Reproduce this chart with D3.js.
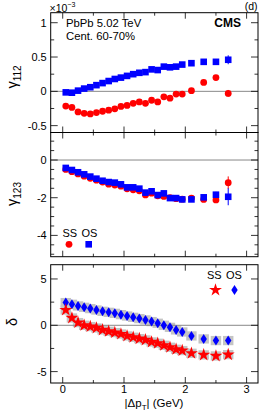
<!DOCTYPE html>
<html><head><meta charset="utf-8">
<script src="https://cdn.jsdelivr.net/npm/d3@7"></script>
<style>
html,body{margin:0;padding:0;background:#fff;}
svg{display:block;font-family:"Liberation Sans",Arial,sans-serif;}
</style></head>
<body>
<script>
// ---- data ----
const xVals = [0.05,0.15,0.25,0.35,0.45,0.55,0.65,0.75,0.85,0.95,1.05,1.15,1.25,1.35,1.45,1.55,1.65,1.75,1.85,1.95,2.1,2.3,2.5,2.7];
const g112OS = [-0.015,-0.02,0.01,0.04,0.06,0.09,0.12,0.15,0.18,0.2,0.225,0.25,0.27,0.28,0.32,0.31,0.36,0.35,0.36,0.39,0.41,0.43,0.43,0.46];
const g112SS = [-0.215,-0.235,-0.30,-0.32,-0.33,-0.31,-0.29,-0.275,-0.255,-0.22,-0.205,-0.175,-0.155,-0.175,-0.13,-0.155,-0.08,-0.10,-0.04,-0.04,0.01,0.13,0.20,-0.03];
const g112OSErr = [0.01,0.01,0.01,0.01,0.01,0.01,0.01,0.01,0.01,0.01,0.01,0.01,0.01,0.01,0.01,0.01,0.01,0.01,0.01,0.01,0.015,0.02,0.03,0.065];
const g112SSErr = [0.01,0.01,0.01,0.01,0.01,0.01,0.01,0.01,0.01,0.01,0.01,0.01,0.01,0.01,0.01,0.01,0.01,0.01,0.01,0.01,0.015,0.02,0.03,0.05];
const g123OS = [-0.42,-0.53,-0.65,-0.76,-0.88,-0.99,-1.10,-1.17,-1.20,-1.29,-1.45,-1.45,-1.52,-1.73,-1.66,-1.86,-1.77,-2.02,-2.02,-2.09,-2.09,-1.98,-1.84,-1.95];
const g123SS = [-0.50,-0.62,-0.74,-0.86,-0.97,-1.07,-1.17,-1.28,-1.33,-1.39,-1.53,-1.58,-1.63,-1.85,-1.76,-1.90,-1.93,-2.00,-2.05,-2.08,-2.02,-2.09,-2.12,-1.20];
const g123OSErr = [0.02,0.02,0.02,0.02,0.02,0.02,0.02,0.02,0.02,0.02,0.02,0.02,0.02,0.02,0.02,0.02,0.02,0.02,0.02,0.02,0.05,0.08,0.15,0.45];
const g123SSErr = [0.02,0.02,0.02,0.02,0.02,0.02,0.02,0.02,0.02,0.02,0.02,0.02,0.02,0.02,0.02,0.02,0.02,0.02,0.02,0.02,0.05,0.08,0.15,0.33];
const deltaOS = [2.45,2.27,2.09,1.94,1.80,1.65,1.51,1.40,1.29,1.15,1.00,0.86,0.72,0.58,0.40,0.22,0.0,-0.22,-0.50,-0.72,-1.15,-1.47,-1.65,-1.65];
const deltaSS = [1.65,0.79,0.29,0.0,-0.14,-0.29,-0.50,-0.65,-0.79,-0.94,-1.15,-1.29,-1.44,-1.58,-1.80,-1.94,-2.16,-2.37,-2.59,-2.73,-3.02,-3.20,-3.31,-3.17];
const deltaSysX = 0.085;
const deltaSysY = 0.5;
const xTicks = [0,1,2,3];
const p1Ticks = [-0.5,0,0.5,1];
const p2Ticks = [-4,-2,0];
const p3Ticks = [-5,0,5];

// ---- layout ----
const W = 266, H = 418;
const svg = d3.select("body").append("svg").attr("width", W).attr("height", H);
const x = d3.scaleLinear().domain([-0.196, 3.186]).range([50.7, 258]);
const RED = "#ff0000", BLUE = "#0000ff";
const FS = 11;
const fmt = v => (v < 0 ? "-" : "") + Math.abs(v);

const panels = [
  {y: d3.scaleLinear().domain([-0.60, 1.146]).range([132.5, 12.7]), ticks: p1Ticks, minor: 0.25},
  {y: d3.scaleLinear().domain([-5.13, 1.46]).range([256.7, 132.5]), ticks: p2Ticks, minor: 0.5},
  {y: d3.scaleLinear().domain([-6.23, 6.54]).range([383, 264.7]), ticks: p3Ticks, minor: 2.5}
];

function drawFrame(p, showX) {
  const g = svg.append("g");
  const [y0, y1] = p.y.range();
  const [xa, xb] = x.range();
  g.append("line").attr("x1", xa).attr("x2", xb).attr("y1", p.y(0)).attr("y2", p.y(0))
    .attr("stroke", "#888").attr("stroke-width", 1);
  const dom = p.y.domain();
  const minors = d3.range(Math.ceil(dom[0]/p.minor)*p.minor, dom[1], p.minor);
  minors.forEach(v => {
    const isMaj = p.ticks.some(t => Math.abs(t - v) < 1e-9);
    const len = isMaj ? 7 : 3.5;
    const yy = p.y(v);
    g.append("line").attr("x1", xa).attr("x2", xa + len).attr("y1", yy).attr("y2", yy).attr("stroke", "#000").attr("stroke-width", 0.8);
    g.append("line").attr("x1", xb).attr("x2", xb - len).attr("y1", yy).attr("y2", yy).attr("stroke", "#000").attr("stroke-width", 0.8);
  });
  p.ticks.forEach(v => {
    g.append("text").attr("x", xa - 4).attr("y", p.y(v) + 4).attr("text-anchor", "end")
      .attr("font-size", FS).attr("fill", "#000").text(fmt(v));
  });
  const xm = d3.range(0, 3.01, 0.5);
  xm.forEach(v => {
    const isMaj = xTicks.includes(v);
    const len = isMaj ? 6 : 3;
    const xx = x(v);
    g.append("line").attr("x1", xx).attr("x2", xx).attr("y1", y0).attr("y2", y0 - len).attr("stroke", "#000").attr("stroke-width", 0.8);
    g.append("line").attr("x1", xx).attr("x2", xx).attr("y1", y1).attr("y2", y1 + len).attr("stroke", "#000").attr("stroke-width", 0.8);
  });
  if (showX) {
    xTicks.forEach(v => {
      g.append("text").attr("x", x(v)).attr("y", y0 + 9.5).attr("text-anchor", "middle")
        .attr("font-size", FS).attr("fill", "#000").text(v);
    });
  }
  g.append("rect").attr("x", xa).attr("y", y1).attr("width", xb - xa).attr("height", y0 - y1)
    .attr("fill", "none").attr("stroke", "#000").attr("stroke-width", 1);
}

function errBars(p, ys, errs, color) {
  svg.append("g").selectAll("line").data(xVals).join("line")
    .attr("x1", d => x(d)).attr("x2", d => x(d))
    .attr("y1", (d, i) => p.y(ys[i] - errs[i])).attr("y2", (d, i) => p.y(ys[i] + errs[i]))
    .attr("stroke", color).attr("stroke-width", 1);
}
function circles(p, ys, color) {
  svg.append("g").selectAll("circle").data(xVals).join("circle")
    .attr("cx", d => x(d)).attr("cy", (d, i) => p.y(ys[i])).attr("r", 3.4).attr("fill", color);
}
function squares(p, ys, color) {
  const s = 6.6;
  svg.append("g").selectAll("rect").data(xVals).join("rect")
    .attr("x", d => x(d) - s/2).attr("y", (d, i) => p.y(ys[i]) - s/2)
    .attr("width", s).attr("height", s).attr("fill", color);
}
const starPath = d3.symbol(d3.symbolStar, 52)();
const diamondPath = "M0,-5L3.2,0L0,5L-3.2,0Z";
function symbols(p, ys, color, path) {
  svg.append("g").selectAll("path").data(xVals).join("path")
    .attr("transform", (d, i) => `translate(${x(d)},${p.y(ys[i])})`)
    .attr("d", path).attr("fill", color);
}

// panel 1
drawFrame(panels[0], false);
errBars(panels[0], g112OS, g112OSErr, BLUE);
errBars(panels[0], g112SS, g112SSErr, RED);
squares(panels[0], g112OS, BLUE);
circles(panels[0], g112SS, RED);

// panel 2
drawFrame(panels[1], false);
errBars(panels[1], g123SS, g123SSErr, RED);
circles(panels[1], g123SS, RED);
errBars(panels[1], g123OS, g123OSErr, BLUE);
squares(panels[1], g123OS, BLUE);

// panel 3
const p3 = panels[2];
const sysG = svg.insert("g", ":first-child");
[deltaOS, deltaSS].forEach(arr => {
  sysG.append("g").selectAll("rect").data(xVals).join("rect")
    .attr("x", d => x(d - deltaSysX)).attr("width", d => x(d + deltaSysX) - x(d - deltaSysX))
    .attr("y", (d, i) => p3.y(arr[i] + deltaSysY))
    .attr("height", (d, i) => p3.y(arr[i] - deltaSysY) - p3.y(arr[i] + deltaSysY))
    .attr("fill", "#c4c4c4");
});
drawFrame(p3, true);
symbols(p3, deltaOS, BLUE, diamondPath);
symbols(p3, deltaSS, RED, starPath);

// ---- texts ----
svg.append("text").attr("x", 66).attr("y", 27).attr("font-size", 11.3).text("PbPb 5.02 TeV");
svg.append("text").attr("x", 66).attr("y", 39.5).attr("font-size", 11.3).text("Cent. 60-70%");
svg.append("text").attr("x", 241).attr("y", 27).attr("font-size", 12).attr("font-weight", "bold").attr("text-anchor", "end").text("CMS");
svg.append("text").attr("x", 257.5).attr("y", 9.5).attr("font-size", 10.5).attr("text-anchor", "end").text("(d)");
const mult = svg.append("text").attr("x", 49.5).attr("y", 11.5).attr("font-size", 10.5);
mult.append("tspan").text("\u00d710");
mult.append("tspan").attr("font-size", 7).attr("dy", -5).text("\u22123");

// y labels
function ylab(cx, cy, main, sub, fs) {
  const t = svg.append("text").attr("transform", `translate(${cx},${cy}) rotate(-90)`)
    .attr("text-anchor", "middle").attr("font-size", fs);
  t.append("tspan").text(main);
  if (sub) t.append("tspan").attr("font-size", 10).attr("dy", 4).text(sub);
}
ylab(17, 77, "\u03b3", "112", 14.5);
ylab(17, 194, "\u03b3", "123", 14.5);
ylab(17, 322, "\u03b4", null, 14.5);

// x label
const xl = svg.append("text").attr("x", 154).attr("y", 407).attr("text-anchor", "middle").attr("font-size", 11.5);
xl.append("tspan").text("|\u0394p");
xl.append("tspan").attr("font-size", 8).attr("dy", 3).text("T");
xl.append("tspan").attr("dy", -3).text("| (GeV)");

// legends
svg.append("text").attr("x", 62.5).attr("y", 237).attr("font-size", FS).text("SS");
svg.append("text").attr("x", 81.5).attr("y", 237).attr("font-size", FS).text("OS");
svg.append("circle").attr("cx", 69).attr("cy", 244.3).attr("r", 3.4).attr("fill", RED);
svg.append("rect").attr("x", 88.7 - 3.3).attr("y", 244.3 - 3.3).attr("width", 6.6).attr("height", 6.6).attr("fill", BLUE);

svg.append("text").attr("x", 207).attr("y", 279).attr("font-size", FS).text("SS");
svg.append("text").attr("x", 226).attr("y", 279).attr("font-size", FS).text("OS");
svg.append("path").attr("transform", "translate(215.5,290)").attr("d", starPath).attr("fill", RED);
svg.append("path").attr("transform", "translate(234.5,290)").attr("d", diamondPath).attr("fill", BLUE);
</script>
</body></html>
